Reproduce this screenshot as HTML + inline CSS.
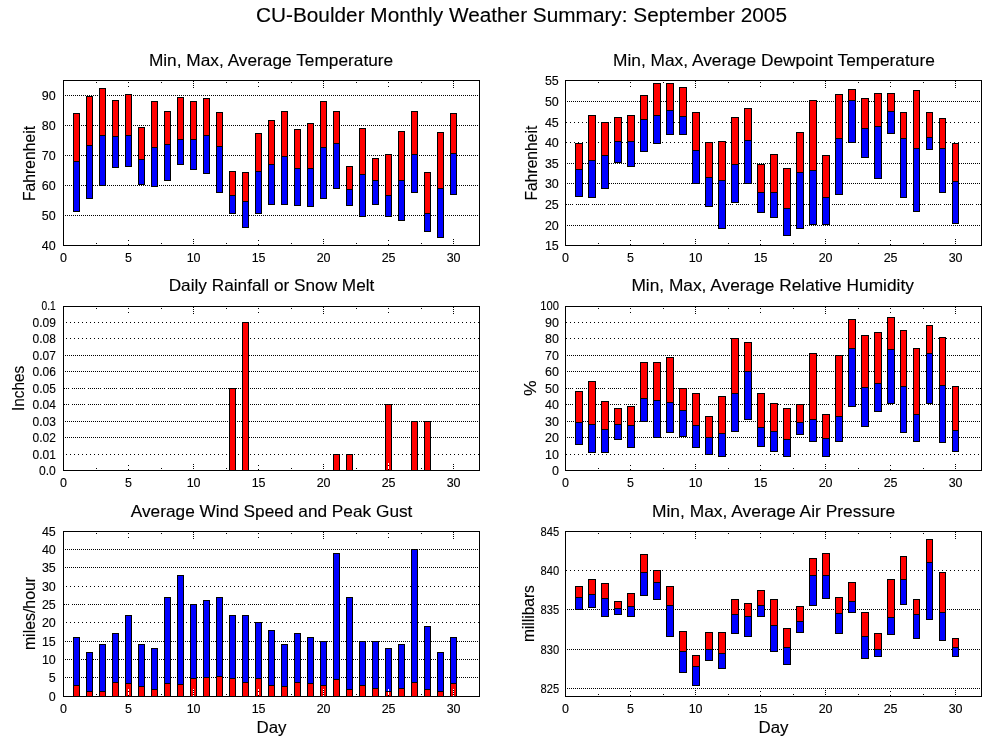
<!DOCTYPE html>
<html><head><meta charset="utf-8"><title>CU-Boulder Monthly Weather Summary: September 2005</title>
<style>html,body{margin:0;padding:0;background:#fff}svg{display:block}</style></head>
<body>
<svg width="1000" height="750" viewBox="0 0 1000 750" shape-rendering="crispEdges" font-family="'Liberation Sans', Arial, Helvetica, sans-serif" fill="#000"><style>text{stroke:#000;stroke-width:0.12px}</style>
<rect width="1000" height="750" fill="#fff"/>
<text x="256.00" y="22.4" font-size="19.5" textLength="531.00" lengthAdjust="spacingAndGlyphs">CU-Boulder Monthly Weather Summary: September 2005</text>
<path d="M65 95.5H479" stroke="#000" stroke-width="1" stroke-dasharray="1 1" fill="none"/>
<path d="M65 125.5H479" stroke="#000" stroke-width="1" stroke-dasharray="1 1" fill="none"/>
<path d="M65 155.5H479" stroke="#000" stroke-width="1" stroke-dasharray="1 1" fill="none"/>
<path d="M65 185.5H479" stroke="#000" stroke-width="1" stroke-dasharray="1 1" fill="none"/>
<path d="M65 215.5H479" stroke="#000" stroke-width="1" stroke-dasharray="1 1" fill="none"/>
<text x="55.6" y="250" font-size="12.5" text-anchor="end">40</text>
<text x="55.6" y="220" font-size="12.5" text-anchor="end">50</text>
<text x="55.6" y="190" font-size="12.5" text-anchor="end">60</text>
<text x="55.6" y="160" font-size="12.5" text-anchor="end">70</text>
<text x="55.6" y="130" font-size="12.5" text-anchor="end">80</text>
<text x="55.6" y="100" font-size="12.5" text-anchor="end">90</text>
<text x="63.6" y="262" font-size="12.5" text-anchor="middle">0</text>
<text x="128.6" y="262" font-size="12.5" text-anchor="middle">5</text>
<text x="193.6" y="262" font-size="12.5" text-anchor="middle">10</text>
<text x="258.6" y="262" font-size="12.5" text-anchor="middle">15</text>
<text x="323.6" y="262" font-size="12.5" text-anchor="middle">20</text>
<text x="388.6" y="262" font-size="12.5" text-anchor="middle">25</text>
<text x="453.6" y="262" font-size="12.5" text-anchor="middle">30</text>
<text x="148.90" y="65.7" font-size="16.5" textLength="244.30" lengthAdjust="spacingAndGlyphs">Min, Max, Average Temperature</text>
<text transform="translate(35.3 201.00) rotate(-90)" font-size="16.5" textLength="75.00" lengthAdjust="spacingAndGlyphs">Fahrenheit</text>
<rect x="73" y="113" width="7" height="99" fill="#000"/>
<rect x="74" y="114" width="5" height="47" fill="#ff0000"/>
<rect x="74" y="162" width="5" height="49" fill="#0000ff"/>
<rect x="86" y="96" width="7" height="103" fill="#000"/>
<rect x="87" y="97" width="5" height="48" fill="#ff0000"/>
<rect x="87" y="146" width="5" height="52" fill="#0000ff"/>
<rect x="99" y="88" width="7" height="98" fill="#000"/>
<rect x="100" y="89" width="5" height="46" fill="#ff0000"/>
<rect x="100" y="136" width="5" height="49" fill="#0000ff"/>
<rect x="112" y="100" width="7" height="68" fill="#000"/>
<rect x="113" y="101" width="5" height="35" fill="#ff0000"/>
<rect x="113" y="137" width="5" height="30" fill="#0000ff"/>
<rect x="125" y="94" width="7" height="73" fill="#000"/>
<rect x="126" y="95" width="5" height="40" fill="#ff0000"/>
<rect x="126" y="136" width="5" height="30" fill="#0000ff"/>
<rect x="138" y="127" width="7" height="58" fill="#000"/>
<rect x="139" y="128" width="5" height="31" fill="#ff0000"/>
<rect x="139" y="160" width="5" height="24" fill="#0000ff"/>
<rect x="151" y="101" width="7" height="86" fill="#000"/>
<rect x="152" y="102" width="5" height="45" fill="#ff0000"/>
<rect x="152" y="148" width="5" height="38" fill="#0000ff"/>
<rect x="164" y="111" width="7" height="70" fill="#000"/>
<rect x="165" y="112" width="5" height="32" fill="#ff0000"/>
<rect x="165" y="145" width="5" height="35" fill="#0000ff"/>
<rect x="177" y="97" width="7" height="68" fill="#000"/>
<rect x="178" y="98" width="5" height="41" fill="#ff0000"/>
<rect x="178" y="140" width="5" height="24" fill="#0000ff"/>
<rect x="190" y="101" width="7" height="69" fill="#000"/>
<rect x="191" y="102" width="5" height="37" fill="#ff0000"/>
<rect x="191" y="140" width="5" height="29" fill="#0000ff"/>
<rect x="203" y="98" width="7" height="76" fill="#000"/>
<rect x="204" y="99" width="5" height="36" fill="#ff0000"/>
<rect x="204" y="136" width="5" height="37" fill="#0000ff"/>
<rect x="216" y="112" width="7" height="81" fill="#000"/>
<rect x="217" y="113" width="5" height="33" fill="#ff0000"/>
<rect x="217" y="147" width="5" height="45" fill="#0000ff"/>
<rect x="229" y="171" width="7" height="43" fill="#000"/>
<rect x="230" y="172" width="5" height="23" fill="#ff0000"/>
<rect x="230" y="196" width="5" height="17" fill="#0000ff"/>
<rect x="242" y="172" width="7" height="56" fill="#000"/>
<rect x="243" y="173" width="5" height="28" fill="#ff0000"/>
<rect x="243" y="202" width="5" height="25" fill="#0000ff"/>
<rect x="255" y="133" width="7" height="81" fill="#000"/>
<rect x="256" y="134" width="5" height="37" fill="#ff0000"/>
<rect x="256" y="172" width="5" height="41" fill="#0000ff"/>
<rect x="268" y="120" width="7" height="85" fill="#000"/>
<rect x="269" y="121" width="5" height="43" fill="#ff0000"/>
<rect x="269" y="165" width="5" height="39" fill="#0000ff"/>
<rect x="281" y="111" width="7" height="94" fill="#000"/>
<rect x="282" y="112" width="5" height="44" fill="#ff0000"/>
<rect x="282" y="157" width="5" height="47" fill="#0000ff"/>
<rect x="294" y="129" width="7" height="77" fill="#000"/>
<rect x="295" y="130" width="5" height="38" fill="#ff0000"/>
<rect x="295" y="169" width="5" height="36" fill="#0000ff"/>
<rect x="307" y="123" width="7" height="84" fill="#000"/>
<rect x="308" y="124" width="5" height="44" fill="#ff0000"/>
<rect x="308" y="169" width="5" height="37" fill="#0000ff"/>
<rect x="320" y="101" width="7" height="98" fill="#000"/>
<rect x="321" y="102" width="5" height="45" fill="#ff0000"/>
<rect x="321" y="148" width="5" height="50" fill="#0000ff"/>
<rect x="333" y="111" width="7" height="78" fill="#000"/>
<rect x="334" y="112" width="5" height="31" fill="#ff0000"/>
<rect x="334" y="144" width="5" height="44" fill="#0000ff"/>
<rect x="346" y="166" width="7" height="40" fill="#000"/>
<rect x="347" y="167" width="5" height="22" fill="#ff0000"/>
<rect x="347" y="190" width="5" height="15" fill="#0000ff"/>
<rect x="359" y="128" width="7" height="89" fill="#000"/>
<rect x="360" y="129" width="5" height="45" fill="#ff0000"/>
<rect x="360" y="175" width="5" height="41" fill="#0000ff"/>
<rect x="372" y="158" width="7" height="47" fill="#000"/>
<rect x="373" y="159" width="5" height="21" fill="#ff0000"/>
<rect x="373" y="181" width="5" height="23" fill="#0000ff"/>
<rect x="385" y="154" width="7" height="63" fill="#000"/>
<rect x="386" y="155" width="5" height="40" fill="#ff0000"/>
<rect x="386" y="196" width="5" height="20" fill="#0000ff"/>
<rect x="398" y="131" width="7" height="90" fill="#000"/>
<rect x="399" y="132" width="5" height="48" fill="#ff0000"/>
<rect x="399" y="181" width="5" height="39" fill="#0000ff"/>
<rect x="411" y="111" width="7" height="82" fill="#000"/>
<rect x="412" y="112" width="5" height="42" fill="#ff0000"/>
<rect x="412" y="155" width="5" height="37" fill="#0000ff"/>
<rect x="424" y="172" width="7" height="60" fill="#000"/>
<rect x="425" y="173" width="5" height="40" fill="#ff0000"/>
<rect x="425" y="214" width="5" height="17" fill="#0000ff"/>
<rect x="437" y="132" width="7" height="106" fill="#000"/>
<rect x="438" y="133" width="5" height="55" fill="#ff0000"/>
<rect x="438" y="189" width="5" height="48" fill="#0000ff"/>
<rect x="450" y="113" width="7" height="82" fill="#000"/>
<rect x="451" y="114" width="5" height="39" fill="#ff0000"/>
<rect x="451" y="154" width="5" height="40" fill="#0000ff"/>
<rect x="96" y="81" width="1" height="3" fill="#fff"/>
<rect x="96" y="242" width="1" height="3" fill="#fff"/>
<rect x="96" y="82" width="1" height="1" fill="#000"/>
<rect x="96" y="243" width="1" height="1" fill="#000"/>
<rect x="128" y="81" width="1" height="7" fill="#fff"/>
<rect x="128" y="238" width="1" height="7" fill="#fff"/>
<rect x="128" y="82" width="1" height="1" fill="#000"/>
<rect x="128" y="86" width="1" height="1" fill="#000"/>
<rect x="128" y="244" width="1" height="1" fill="#000"/>
<rect x="128" y="240" width="1" height="1" fill="#000"/>
<rect x="161" y="81" width="1" height="3" fill="#fff"/>
<rect x="161" y="242" width="1" height="3" fill="#fff"/>
<rect x="161" y="82" width="1" height="1" fill="#000"/>
<rect x="161" y="243" width="1" height="1" fill="#000"/>
<rect x="193" y="81" width="1" height="7" fill="#fff"/>
<rect x="193" y="238" width="1" height="7" fill="#fff"/>
<rect x="193" y="81" width="1" height="1" fill="#000"/>
<rect x="193" y="83" width="1" height="1" fill="#000"/>
<rect x="193" y="85" width="1" height="1" fill="#000"/>
<rect x="193" y="87" width="1" height="1" fill="#000"/>
<rect x="193" y="243" width="1" height="1" fill="#000"/>
<rect x="193" y="241" width="1" height="1" fill="#000"/>
<rect x="193" y="239" width="1" height="1" fill="#000"/>
<rect x="226" y="81" width="1" height="3" fill="#fff"/>
<rect x="226" y="242" width="1" height="3" fill="#fff"/>
<rect x="226" y="82" width="1" height="1" fill="#000"/>
<rect x="226" y="243" width="1" height="1" fill="#000"/>
<rect x="258" y="81" width="1" height="7" fill="#fff"/>
<rect x="258" y="238" width="1" height="7" fill="#fff"/>
<rect x="258" y="82" width="1" height="1" fill="#000"/>
<rect x="258" y="86" width="1" height="1" fill="#000"/>
<rect x="258" y="244" width="1" height="1" fill="#000"/>
<rect x="258" y="240" width="1" height="1" fill="#000"/>
<rect x="291" y="81" width="1" height="3" fill="#fff"/>
<rect x="291" y="242" width="1" height="3" fill="#fff"/>
<rect x="291" y="82" width="1" height="1" fill="#000"/>
<rect x="291" y="243" width="1" height="1" fill="#000"/>
<rect x="323" y="81" width="1" height="7" fill="#fff"/>
<rect x="323" y="238" width="1" height="7" fill="#fff"/>
<rect x="323" y="81" width="1" height="1" fill="#000"/>
<rect x="323" y="83" width="1" height="1" fill="#000"/>
<rect x="323" y="85" width="1" height="1" fill="#000"/>
<rect x="323" y="87" width="1" height="1" fill="#000"/>
<rect x="323" y="243" width="1" height="1" fill="#000"/>
<rect x="323" y="241" width="1" height="1" fill="#000"/>
<rect x="323" y="239" width="1" height="1" fill="#000"/>
<rect x="356" y="81" width="1" height="3" fill="#fff"/>
<rect x="356" y="242" width="1" height="3" fill="#fff"/>
<rect x="356" y="82" width="1" height="1" fill="#000"/>
<rect x="356" y="243" width="1" height="1" fill="#000"/>
<rect x="388" y="81" width="1" height="7" fill="#fff"/>
<rect x="388" y="238" width="1" height="7" fill="#fff"/>
<rect x="388" y="82" width="1" height="1" fill="#000"/>
<rect x="388" y="86" width="1" height="1" fill="#000"/>
<rect x="388" y="244" width="1" height="1" fill="#000"/>
<rect x="388" y="240" width="1" height="1" fill="#000"/>
<rect x="421" y="81" width="1" height="3" fill="#fff"/>
<rect x="421" y="242" width="1" height="3" fill="#fff"/>
<rect x="421" y="82" width="1" height="1" fill="#000"/>
<rect x="421" y="243" width="1" height="1" fill="#000"/>
<rect x="453" y="81" width="1" height="7" fill="#fff"/>
<rect x="453" y="238" width="1" height="7" fill="#fff"/>
<rect x="453" y="81" width="1" height="1" fill="#000"/>
<rect x="453" y="83" width="1" height="1" fill="#000"/>
<rect x="453" y="85" width="1" height="1" fill="#000"/>
<rect x="453" y="87" width="1" height="1" fill="#000"/>
<rect x="453" y="243" width="1" height="1" fill="#000"/>
<rect x="453" y="241" width="1" height="1" fill="#000"/>
<rect x="453" y="239" width="1" height="1" fill="#000"/>
<path d="M63.5 80.5H479.5V245.5H63.5Z" stroke="#000" stroke-width="1" fill="none"/>
<path d="M567 101.5H981" stroke="#000" stroke-width="1" stroke-dasharray="1 1" fill="none"/>
<path d="M566 122.5H981" stroke="#000" stroke-width="1" stroke-dasharray="1 3" fill="none"/>
<path d="M566 142.5H981" stroke="#000" stroke-width="1" stroke-dasharray="1 3" fill="none"/>
<path d="M567 163.5H981" stroke="#000" stroke-width="1" stroke-dasharray="1 1" fill="none"/>
<path d="M567 183.5H981" stroke="#000" stroke-width="1" stroke-dasharray="1 1" fill="none"/>
<path d="M566 204.5H573M576 204.5H589M592 204.5H605M608 204.5H621M624 204.5H637M640 204.5H653M656 204.5H669M672 204.5H685M688 204.5H701M704 204.5H717M720 204.5H733M736 204.5H749M752 204.5H765M768 204.5H781M784 204.5H797M800 204.5H813M816 204.5H829M832 204.5H845M848 204.5H861M864 204.5H877M880 204.5H893M896 204.5H909M912 204.5H925M928 204.5H941M944 204.5H957M960 204.5H973M976 204.5H981" stroke="#000" stroke-width="1" stroke-dasharray="1 1" fill="none"/>
<path d="M567 225.5H981" stroke="#000" stroke-width="1" stroke-dasharray="1 1" fill="none"/>
<text x="558.8" y="85" font-size="12.5" text-anchor="end">55</text>
<text x="558.8" y="106" font-size="12.5" text-anchor="end">50</text>
<text x="558.8" y="127" font-size="12.5" text-anchor="end">45</text>
<text x="558.8" y="147" font-size="12.5" text-anchor="end">40</text>
<text x="558.8" y="168" font-size="12.5" text-anchor="end">35</text>
<text x="558.8" y="188" font-size="12.5" text-anchor="end">30</text>
<text x="558.8" y="209" font-size="12.5" text-anchor="end">25</text>
<text x="558.8" y="230" font-size="12.5" text-anchor="end">20</text>
<text x="558.8" y="250" font-size="12.5" text-anchor="end">15</text>
<text x="565.6" y="262" font-size="12.5" text-anchor="middle">0</text>
<text x="630.6" y="262" font-size="12.5" text-anchor="middle">5</text>
<text x="695.6" y="262" font-size="12.5" text-anchor="middle">10</text>
<text x="760.6" y="262" font-size="12.5" text-anchor="middle">15</text>
<text x="825.6" y="262" font-size="12.5" text-anchor="middle">20</text>
<text x="890.6" y="262" font-size="12.5" text-anchor="middle">25</text>
<text x="955.6" y="262" font-size="12.5" text-anchor="middle">30</text>
<text x="613.00" y="65.7" font-size="16.5" textLength="321.80" lengthAdjust="spacingAndGlyphs">Min, Max, Average Dewpoint Temperature</text>
<text transform="translate(537.1 200.50) rotate(-90)" font-size="16.5" textLength="74.80" lengthAdjust="spacingAndGlyphs">Fahrenheit</text>
<rect x="575" y="143" width="8" height="54" fill="#000"/>
<rect x="576" y="144" width="6" height="25" fill="#ff0000"/>
<rect x="576" y="170" width="6" height="26" fill="#0000ff"/>
<rect x="588" y="115" width="8" height="83" fill="#000"/>
<rect x="589" y="116" width="6" height="44" fill="#ff0000"/>
<rect x="589" y="161" width="6" height="36" fill="#0000ff"/>
<rect x="601" y="122" width="8" height="67" fill="#000"/>
<rect x="602" y="123" width="6" height="32" fill="#ff0000"/>
<rect x="602" y="156" width="6" height="32" fill="#0000ff"/>
<rect x="614" y="117" width="8" height="46" fill="#000"/>
<rect x="615" y="118" width="6" height="23" fill="#ff0000"/>
<rect x="615" y="142" width="6" height="20" fill="#0000ff"/>
<rect x="627" y="115" width="8" height="52" fill="#000"/>
<rect x="628" y="116" width="6" height="25" fill="#ff0000"/>
<rect x="628" y="142" width="6" height="24" fill="#0000ff"/>
<rect x="640" y="95" width="8" height="57" fill="#000"/>
<rect x="641" y="96" width="6" height="23" fill="#ff0000"/>
<rect x="641" y="120" width="6" height="31" fill="#0000ff"/>
<rect x="653" y="83" width="8" height="61" fill="#000"/>
<rect x="654" y="84" width="6" height="31" fill="#ff0000"/>
<rect x="654" y="116" width="6" height="27" fill="#0000ff"/>
<rect x="666" y="83" width="8" height="52" fill="#000"/>
<rect x="667" y="84" width="6" height="26" fill="#ff0000"/>
<rect x="667" y="111" width="6" height="23" fill="#0000ff"/>
<rect x="679" y="87" width="8" height="48" fill="#000"/>
<rect x="680" y="88" width="6" height="28" fill="#ff0000"/>
<rect x="680" y="117" width="6" height="17" fill="#0000ff"/>
<rect x="692" y="112" width="8" height="72" fill="#000"/>
<rect x="693" y="113" width="6" height="37" fill="#ff0000"/>
<rect x="693" y="151" width="6" height="32" fill="#0000ff"/>
<rect x="705" y="142" width="8" height="65" fill="#000"/>
<rect x="706" y="143" width="6" height="34" fill="#ff0000"/>
<rect x="706" y="178" width="6" height="28" fill="#0000ff"/>
<rect x="718" y="141" width="8" height="88" fill="#000"/>
<rect x="719" y="142" width="6" height="38" fill="#ff0000"/>
<rect x="719" y="181" width="6" height="47" fill="#0000ff"/>
<rect x="731" y="117" width="8" height="86" fill="#000"/>
<rect x="732" y="118" width="6" height="46" fill="#ff0000"/>
<rect x="732" y="165" width="6" height="37" fill="#0000ff"/>
<rect x="744" y="108" width="8" height="76" fill="#000"/>
<rect x="745" y="109" width="6" height="31" fill="#ff0000"/>
<rect x="745" y="141" width="6" height="42" fill="#0000ff"/>
<rect x="757" y="164" width="8" height="49" fill="#000"/>
<rect x="758" y="165" width="6" height="27" fill="#ff0000"/>
<rect x="758" y="193" width="6" height="19" fill="#0000ff"/>
<rect x="770" y="154" width="8" height="64" fill="#000"/>
<rect x="771" y="155" width="6" height="37" fill="#ff0000"/>
<rect x="771" y="193" width="6" height="24" fill="#0000ff"/>
<rect x="783" y="168" width="8" height="68" fill="#000"/>
<rect x="784" y="169" width="6" height="39" fill="#ff0000"/>
<rect x="784" y="209" width="6" height="26" fill="#0000ff"/>
<rect x="796" y="132" width="8" height="97" fill="#000"/>
<rect x="797" y="133" width="6" height="39" fill="#ff0000"/>
<rect x="797" y="173" width="6" height="55" fill="#0000ff"/>
<rect x="809" y="100" width="8" height="125" fill="#000"/>
<rect x="810" y="101" width="6" height="69" fill="#ff0000"/>
<rect x="810" y="171" width="6" height="53" fill="#0000ff"/>
<rect x="822" y="155" width="8" height="70" fill="#000"/>
<rect x="823" y="156" width="6" height="41" fill="#ff0000"/>
<rect x="823" y="198" width="6" height="26" fill="#0000ff"/>
<rect x="835" y="94" width="8" height="101" fill="#000"/>
<rect x="836" y="95" width="6" height="43" fill="#ff0000"/>
<rect x="836" y="139" width="6" height="55" fill="#0000ff"/>
<rect x="848" y="89" width="8" height="54" fill="#000"/>
<rect x="849" y="90" width="6" height="10" fill="#ff0000"/>
<rect x="849" y="101" width="6" height="41" fill="#0000ff"/>
<rect x="861" y="98" width="8" height="60" fill="#000"/>
<rect x="862" y="99" width="6" height="29" fill="#ff0000"/>
<rect x="862" y="129" width="6" height="28" fill="#0000ff"/>
<rect x="874" y="93" width="8" height="86" fill="#000"/>
<rect x="875" y="94" width="6" height="32" fill="#ff0000"/>
<rect x="875" y="127" width="6" height="51" fill="#0000ff"/>
<rect x="887" y="93" width="8" height="41" fill="#000"/>
<rect x="888" y="94" width="6" height="17" fill="#ff0000"/>
<rect x="888" y="112" width="6" height="21" fill="#0000ff"/>
<rect x="900" y="112" width="7" height="86" fill="#000"/>
<rect x="901" y="113" width="5" height="25" fill="#ff0000"/>
<rect x="901" y="139" width="5" height="58" fill="#0000ff"/>
<rect x="913" y="90" width="7" height="122" fill="#000"/>
<rect x="914" y="91" width="5" height="57" fill="#ff0000"/>
<rect x="914" y="149" width="5" height="62" fill="#0000ff"/>
<rect x="926" y="112" width="7" height="38" fill="#000"/>
<rect x="927" y="113" width="5" height="24" fill="#ff0000"/>
<rect x="927" y="138" width="5" height="11" fill="#0000ff"/>
<rect x="939" y="118" width="7" height="75" fill="#000"/>
<rect x="940" y="119" width="5" height="29" fill="#ff0000"/>
<rect x="940" y="149" width="5" height="43" fill="#0000ff"/>
<rect x="952" y="143" width="7" height="81" fill="#000"/>
<rect x="953" y="144" width="5" height="37" fill="#ff0000"/>
<rect x="953" y="182" width="5" height="41" fill="#0000ff"/>
<rect x="598" y="81" width="1" height="3" fill="#fff"/>
<rect x="598" y="242" width="1" height="3" fill="#fff"/>
<rect x="598" y="82" width="1" height="1" fill="#000"/>
<rect x="598" y="243" width="1" height="1" fill="#000"/>
<rect x="630" y="81" width="1" height="7" fill="#fff"/>
<rect x="630" y="238" width="1" height="7" fill="#fff"/>
<rect x="630" y="82" width="1" height="1" fill="#000"/>
<rect x="630" y="86" width="1" height="1" fill="#000"/>
<rect x="630" y="244" width="1" height="1" fill="#000"/>
<rect x="630" y="240" width="1" height="1" fill="#000"/>
<rect x="663" y="81" width="1" height="3" fill="#fff"/>
<rect x="663" y="242" width="1" height="3" fill="#fff"/>
<rect x="663" y="82" width="1" height="1" fill="#000"/>
<rect x="663" y="243" width="1" height="1" fill="#000"/>
<rect x="695" y="81" width="1" height="7" fill="#fff"/>
<rect x="695" y="238" width="1" height="7" fill="#fff"/>
<rect x="695" y="81" width="1" height="1" fill="#000"/>
<rect x="695" y="83" width="1" height="1" fill="#000"/>
<rect x="695" y="85" width="1" height="1" fill="#000"/>
<rect x="695" y="87" width="1" height="1" fill="#000"/>
<rect x="695" y="243" width="1" height="1" fill="#000"/>
<rect x="695" y="241" width="1" height="1" fill="#000"/>
<rect x="695" y="239" width="1" height="1" fill="#000"/>
<rect x="728" y="81" width="1" height="3" fill="#fff"/>
<rect x="728" y="242" width="1" height="3" fill="#fff"/>
<rect x="728" y="82" width="1" height="1" fill="#000"/>
<rect x="728" y="243" width="1" height="1" fill="#000"/>
<rect x="760" y="81" width="1" height="7" fill="#fff"/>
<rect x="760" y="238" width="1" height="7" fill="#fff"/>
<rect x="760" y="82" width="1" height="1" fill="#000"/>
<rect x="760" y="86" width="1" height="1" fill="#000"/>
<rect x="760" y="244" width="1" height="1" fill="#000"/>
<rect x="760" y="240" width="1" height="1" fill="#000"/>
<rect x="793" y="81" width="1" height="3" fill="#fff"/>
<rect x="793" y="242" width="1" height="3" fill="#fff"/>
<rect x="793" y="82" width="1" height="1" fill="#000"/>
<rect x="793" y="243" width="1" height="1" fill="#000"/>
<rect x="825" y="81" width="1" height="7" fill="#fff"/>
<rect x="825" y="238" width="1" height="7" fill="#fff"/>
<rect x="825" y="81" width="1" height="1" fill="#000"/>
<rect x="825" y="83" width="1" height="1" fill="#000"/>
<rect x="825" y="85" width="1" height="1" fill="#000"/>
<rect x="825" y="87" width="1" height="1" fill="#000"/>
<rect x="825" y="243" width="1" height="1" fill="#000"/>
<rect x="825" y="241" width="1" height="1" fill="#000"/>
<rect x="825" y="239" width="1" height="1" fill="#000"/>
<rect x="858" y="81" width="1" height="3" fill="#fff"/>
<rect x="858" y="242" width="1" height="3" fill="#fff"/>
<rect x="858" y="82" width="1" height="1" fill="#000"/>
<rect x="858" y="243" width="1" height="1" fill="#000"/>
<rect x="890" y="81" width="1" height="7" fill="#fff"/>
<rect x="890" y="238" width="1" height="7" fill="#fff"/>
<rect x="890" y="82" width="1" height="1" fill="#000"/>
<rect x="890" y="86" width="1" height="1" fill="#000"/>
<rect x="890" y="244" width="1" height="1" fill="#000"/>
<rect x="890" y="240" width="1" height="1" fill="#000"/>
<rect x="923" y="81" width="1" height="3" fill="#fff"/>
<rect x="923" y="242" width="1" height="3" fill="#fff"/>
<rect x="923" y="82" width="1" height="1" fill="#000"/>
<rect x="923" y="243" width="1" height="1" fill="#000"/>
<rect x="955" y="81" width="1" height="7" fill="#fff"/>
<rect x="955" y="238" width="1" height="7" fill="#fff"/>
<rect x="955" y="81" width="1" height="1" fill="#000"/>
<rect x="955" y="83" width="1" height="1" fill="#000"/>
<rect x="955" y="85" width="1" height="1" fill="#000"/>
<rect x="955" y="87" width="1" height="1" fill="#000"/>
<rect x="955" y="243" width="1" height="1" fill="#000"/>
<rect x="955" y="241" width="1" height="1" fill="#000"/>
<rect x="955" y="239" width="1" height="1" fill="#000"/>
<path d="M565.5 80.5H981.5V245.5H565.5Z" stroke="#000" stroke-width="1" fill="none"/>
<path d="M66 322.5H479" stroke="#000" stroke-width="1" stroke-dasharray="1 3" fill="none"/>
<path d="M66 338.5H479" stroke="#000" stroke-width="1" stroke-dasharray="1 3" fill="none"/>
<path d="M65 355.5H479" stroke="#000" stroke-width="1" stroke-dasharray="1 1" fill="none"/>
<path d="M65 371.5H479" stroke="#000" stroke-width="1" stroke-dasharray="1 1" fill="none"/>
<path d="M64 388.5H69M72 388.5H85M88 388.5H101M104 388.5H117M120 388.5H133M136 388.5H149M152 388.5H165M168 388.5H181M184 388.5H197M200 388.5H213M216 388.5H229M232 388.5H245M248 388.5H261M264 388.5H277M280 388.5H293M296 388.5H309M312 388.5H325M328 388.5H341M344 388.5H357M360 388.5H373M376 388.5H389M392 388.5H405M408 388.5H421M424 388.5H437M440 388.5H453M456 388.5H469M472 388.5H479" stroke="#000" stroke-width="1" stroke-dasharray="1 1" fill="none"/>
<path d="M64 404.5H69M72 404.5H85M88 404.5H101M104 404.5H117M120 404.5H133M136 404.5H149M152 404.5H165M168 404.5H181M184 404.5H197M200 404.5H213M216 404.5H229M232 404.5H245M248 404.5H261M264 404.5H277M280 404.5H293M296 404.5H309M312 404.5H325M328 404.5H341M344 404.5H357M360 404.5H373M376 404.5H389M392 404.5H405M408 404.5H421M424 404.5H437M440 404.5H453M456 404.5H469M472 404.5H479" stroke="#000" stroke-width="1" stroke-dasharray="1 1" fill="none"/>
<path d="M65 421.5H479" stroke="#000" stroke-width="1" stroke-dasharray="1 1" fill="none"/>
<path d="M65 437.5H479" stroke="#000" stroke-width="1" stroke-dasharray="1 1" fill="none"/>
<path d="M66 454.5H479" stroke="#000" stroke-width="1" stroke-dasharray="1 3" fill="none"/>
<text x="41.60" y="310" font-size="12.5" textLength="14.2" lengthAdjust="spacingAndGlyphs">0.1</text>
<text x="32.50" y="327" font-size="12.5" textLength="23.3" lengthAdjust="spacingAndGlyphs">0.09</text>
<text x="32.50" y="343" font-size="12.5" textLength="23.3" lengthAdjust="spacingAndGlyphs">0.08</text>
<text x="32.50" y="360" font-size="12.5" textLength="23.3" lengthAdjust="spacingAndGlyphs">0.07</text>
<text x="32.50" y="376" font-size="12.5" textLength="23.3" lengthAdjust="spacingAndGlyphs">0.06</text>
<text x="32.50" y="393" font-size="12.5" textLength="23.3" lengthAdjust="spacingAndGlyphs">0.05</text>
<text x="32.50" y="409" font-size="12.5" textLength="23.3" lengthAdjust="spacingAndGlyphs">0.04</text>
<text x="32.50" y="426" font-size="12.5" textLength="23.3" lengthAdjust="spacingAndGlyphs">0.03</text>
<text x="32.50" y="442" font-size="12.5" textLength="23.3" lengthAdjust="spacingAndGlyphs">0.02</text>
<text x="32.50" y="459" font-size="12.5" textLength="23.3" lengthAdjust="spacingAndGlyphs">0.01</text>
<text x="38.95" y="475" font-size="12.5" textLength="16.85" lengthAdjust="spacingAndGlyphs">0.0</text>
<text x="63.6" y="487" font-size="12.5" text-anchor="middle">0</text>
<text x="128.6" y="487" font-size="12.5" text-anchor="middle">5</text>
<text x="193.6" y="487" font-size="12.5" text-anchor="middle">10</text>
<text x="258.6" y="487" font-size="12.5" text-anchor="middle">15</text>
<text x="323.6" y="487" font-size="12.5" text-anchor="middle">20</text>
<text x="388.6" y="487" font-size="12.5" text-anchor="middle">25</text>
<text x="453.6" y="487" font-size="12.5" text-anchor="middle">30</text>
<text x="168.70" y="290.7" font-size="16.5" textLength="205.70" lengthAdjust="spacingAndGlyphs">Daily Rainfall or Snow Melt</text>
<text transform="translate(24.4 411.00) rotate(-90)" font-size="16.5" textLength="45.30" lengthAdjust="spacingAndGlyphs">Inches</text>
<rect x="229" y="388" width="7" height="83" fill="#000"/>
<rect x="230" y="389" width="5" height="81" fill="#ff0000"/>
<rect x="242" y="322" width="7" height="149" fill="#000"/>
<rect x="243" y="323" width="5" height="147" fill="#ff0000"/>
<rect x="333" y="454" width="7" height="17" fill="#000"/>
<rect x="334" y="455" width="5" height="15" fill="#ff0000"/>
<rect x="346" y="454" width="7" height="17" fill="#000"/>
<rect x="347" y="455" width="5" height="15" fill="#ff0000"/>
<rect x="385" y="404" width="7" height="67" fill="#000"/>
<rect x="386" y="405" width="5" height="65" fill="#ff0000"/>
<rect x="411" y="421" width="7" height="50" fill="#000"/>
<rect x="412" y="422" width="5" height="48" fill="#ff0000"/>
<rect x="424" y="421" width="7" height="50" fill="#000"/>
<rect x="425" y="422" width="5" height="48" fill="#ff0000"/>
<rect x="96" y="307" width="1" height="3" fill="#fff"/>
<rect x="96" y="467" width="1" height="3" fill="#fff"/>
<rect x="96" y="308" width="1" height="1" fill="#000"/>
<rect x="96" y="468" width="1" height="1" fill="#000"/>
<rect x="128" y="307" width="1" height="7" fill="#fff"/>
<rect x="128" y="463" width="1" height="7" fill="#fff"/>
<rect x="128" y="308" width="1" height="1" fill="#000"/>
<rect x="128" y="312" width="1" height="1" fill="#000"/>
<rect x="128" y="469" width="1" height="1" fill="#000"/>
<rect x="128" y="465" width="1" height="1" fill="#000"/>
<rect x="161" y="307" width="1" height="3" fill="#fff"/>
<rect x="161" y="467" width="1" height="3" fill="#fff"/>
<rect x="161" y="308" width="1" height="1" fill="#000"/>
<rect x="161" y="468" width="1" height="1" fill="#000"/>
<rect x="193" y="307" width="1" height="7" fill="#fff"/>
<rect x="193" y="463" width="1" height="7" fill="#fff"/>
<rect x="193" y="307" width="1" height="1" fill="#000"/>
<rect x="193" y="309" width="1" height="1" fill="#000"/>
<rect x="193" y="311" width="1" height="1" fill="#000"/>
<rect x="193" y="313" width="1" height="1" fill="#000"/>
<rect x="193" y="468" width="1" height="1" fill="#000"/>
<rect x="193" y="466" width="1" height="1" fill="#000"/>
<rect x="193" y="464" width="1" height="1" fill="#000"/>
<rect x="226" y="307" width="1" height="3" fill="#fff"/>
<rect x="226" y="467" width="1" height="3" fill="#fff"/>
<rect x="226" y="308" width="1" height="1" fill="#000"/>
<rect x="226" y="468" width="1" height="1" fill="#000"/>
<rect x="258" y="307" width="1" height="7" fill="#fff"/>
<rect x="258" y="463" width="1" height="7" fill="#fff"/>
<rect x="258" y="308" width="1" height="1" fill="#000"/>
<rect x="258" y="312" width="1" height="1" fill="#000"/>
<rect x="258" y="469" width="1" height="1" fill="#000"/>
<rect x="258" y="465" width="1" height="1" fill="#000"/>
<rect x="291" y="307" width="1" height="3" fill="#fff"/>
<rect x="291" y="467" width="1" height="3" fill="#fff"/>
<rect x="291" y="308" width="1" height="1" fill="#000"/>
<rect x="291" y="468" width="1" height="1" fill="#000"/>
<rect x="323" y="307" width="1" height="7" fill="#fff"/>
<rect x="323" y="463" width="1" height="7" fill="#fff"/>
<rect x="323" y="307" width="1" height="1" fill="#000"/>
<rect x="323" y="309" width="1" height="1" fill="#000"/>
<rect x="323" y="311" width="1" height="1" fill="#000"/>
<rect x="323" y="313" width="1" height="1" fill="#000"/>
<rect x="323" y="468" width="1" height="1" fill="#000"/>
<rect x="323" y="466" width="1" height="1" fill="#000"/>
<rect x="323" y="464" width="1" height="1" fill="#000"/>
<rect x="356" y="307" width="1" height="3" fill="#fff"/>
<rect x="356" y="467" width="1" height="3" fill="#fff"/>
<rect x="356" y="308" width="1" height="1" fill="#000"/>
<rect x="356" y="468" width="1" height="1" fill="#000"/>
<rect x="388" y="307" width="1" height="7" fill="#fff"/>
<rect x="388" y="463" width="1" height="7" fill="#fff"/>
<rect x="388" y="308" width="1" height="1" fill="#000"/>
<rect x="388" y="312" width="1" height="1" fill="#000"/>
<rect x="388" y="469" width="1" height="1" fill="#000"/>
<rect x="388" y="465" width="1" height="1" fill="#000"/>
<rect x="421" y="307" width="1" height="3" fill="#fff"/>
<rect x="421" y="467" width="1" height="3" fill="#fff"/>
<rect x="421" y="308" width="1" height="1" fill="#000"/>
<rect x="421" y="468" width="1" height="1" fill="#000"/>
<rect x="453" y="307" width="1" height="7" fill="#fff"/>
<rect x="453" y="463" width="1" height="7" fill="#fff"/>
<rect x="453" y="307" width="1" height="1" fill="#000"/>
<rect x="453" y="309" width="1" height="1" fill="#000"/>
<rect x="453" y="311" width="1" height="1" fill="#000"/>
<rect x="453" y="313" width="1" height="1" fill="#000"/>
<rect x="453" y="468" width="1" height="1" fill="#000"/>
<rect x="453" y="466" width="1" height="1" fill="#000"/>
<rect x="453" y="464" width="1" height="1" fill="#000"/>
<path d="M63.5 306.5H479.5V470.5H63.5Z" stroke="#000" stroke-width="1" fill="none"/>
<path d="M566 322.5H981" stroke="#000" stroke-width="1" stroke-dasharray="1 3" fill="none"/>
<path d="M566 338.5H981" stroke="#000" stroke-width="1" stroke-dasharray="1 3" fill="none"/>
<path d="M567 355.5H981" stroke="#000" stroke-width="1" stroke-dasharray="1 1" fill="none"/>
<path d="M567 371.5H981" stroke="#000" stroke-width="1" stroke-dasharray="1 1" fill="none"/>
<path d="M566 388.5H573M576 388.5H589M592 388.5H605M608 388.5H621M624 388.5H637M640 388.5H653M656 388.5H669M672 388.5H685M688 388.5H701M704 388.5H717M720 388.5H733M736 388.5H749M752 388.5H765M768 388.5H781M784 388.5H797M800 388.5H813M816 388.5H829M832 388.5H845M848 388.5H861M864 388.5H877M880 388.5H893M896 388.5H909M912 388.5H925M928 388.5H941M944 388.5H957M960 388.5H973M976 388.5H981" stroke="#000" stroke-width="1" stroke-dasharray="1 1" fill="none"/>
<path d="M566 404.5H573M576 404.5H589M592 404.5H605M608 404.5H621M624 404.5H637M640 404.5H653M656 404.5H669M672 404.5H685M688 404.5H701M704 404.5H717M720 404.5H733M736 404.5H749M752 404.5H765M768 404.5H781M784 404.5H797M800 404.5H813M816 404.5H829M832 404.5H845M848 404.5H861M864 404.5H877M880 404.5H893M896 404.5H909M912 404.5H925M928 404.5H941M944 404.5H957M960 404.5H973M976 404.5H981" stroke="#000" stroke-width="1" stroke-dasharray="1 1" fill="none"/>
<path d="M567 421.5H981" stroke="#000" stroke-width="1" stroke-dasharray="1 1" fill="none"/>
<path d="M567 437.5H981" stroke="#000" stroke-width="1" stroke-dasharray="1 1" fill="none"/>
<path d="M566 454.5H981" stroke="#000" stroke-width="1" stroke-dasharray="1 3" fill="none"/>
<text x="540.35" y="310" font-size="12.5" textLength="18.65" lengthAdjust="spacingAndGlyphs">100</text>
<text x="559" y="327" font-size="12.5" text-anchor="end">90</text>
<text x="559" y="343" font-size="12.5" text-anchor="end">80</text>
<text x="559" y="360" font-size="12.5" text-anchor="end">70</text>
<text x="559" y="376" font-size="12.5" text-anchor="end">60</text>
<text x="559" y="393" font-size="12.5" text-anchor="end">50</text>
<text x="559" y="409" font-size="12.5" text-anchor="end">40</text>
<text x="559" y="426" font-size="12.5" text-anchor="end">30</text>
<text x="559" y="442" font-size="12.5" text-anchor="end">20</text>
<text x="559" y="459" font-size="12.5" text-anchor="end">10</text>
<text x="559" y="475" font-size="12.5" text-anchor="end">0</text>
<text x="565.6" y="487" font-size="12.5" text-anchor="middle">0</text>
<text x="630.6" y="487" font-size="12.5" text-anchor="middle">5</text>
<text x="695.6" y="487" font-size="12.5" text-anchor="middle">10</text>
<text x="760.6" y="487" font-size="12.5" text-anchor="middle">15</text>
<text x="825.6" y="487" font-size="12.5" text-anchor="middle">20</text>
<text x="890.6" y="487" font-size="12.5" text-anchor="middle">25</text>
<text x="955.6" y="487" font-size="12.5" text-anchor="middle">30</text>
<text x="631.40" y="290.7" font-size="16.5" textLength="282.50" lengthAdjust="spacingAndGlyphs">Min, Max, Average Relative Humidity</text>
<text transform="translate(535.5 395.90) rotate(-90)" font-size="16.5" textLength="15.60" lengthAdjust="spacingAndGlyphs">%</text>
<rect x="575" y="391" width="8" height="54" fill="#000"/>
<rect x="576" y="392" width="6" height="30" fill="#ff0000"/>
<rect x="576" y="423" width="6" height="21" fill="#0000ff"/>
<rect x="588" y="381" width="8" height="72" fill="#000"/>
<rect x="589" y="382" width="6" height="42" fill="#ff0000"/>
<rect x="589" y="425" width="6" height="27" fill="#0000ff"/>
<rect x="601" y="401" width="8" height="52" fill="#000"/>
<rect x="602" y="402" width="6" height="27" fill="#ff0000"/>
<rect x="602" y="430" width="6" height="22" fill="#0000ff"/>
<rect x="614" y="408" width="8" height="32" fill="#000"/>
<rect x="615" y="409" width="6" height="15" fill="#ff0000"/>
<rect x="615" y="425" width="6" height="14" fill="#0000ff"/>
<rect x="627" y="406" width="8" height="42" fill="#000"/>
<rect x="628" y="407" width="6" height="18" fill="#ff0000"/>
<rect x="628" y="426" width="6" height="21" fill="#0000ff"/>
<rect x="640" y="362" width="8" height="60" fill="#000"/>
<rect x="641" y="363" width="6" height="35" fill="#ff0000"/>
<rect x="641" y="399" width="6" height="22" fill="#0000ff"/>
<rect x="653" y="362" width="8" height="76" fill="#000"/>
<rect x="654" y="363" width="6" height="37" fill="#ff0000"/>
<rect x="654" y="401" width="6" height="36" fill="#0000ff"/>
<rect x="666" y="357" width="8" height="76" fill="#000"/>
<rect x="667" y="358" width="6" height="44" fill="#ff0000"/>
<rect x="667" y="403" width="6" height="29" fill="#0000ff"/>
<rect x="679" y="388" width="8" height="49" fill="#000"/>
<rect x="680" y="389" width="6" height="21" fill="#ff0000"/>
<rect x="680" y="411" width="6" height="25" fill="#0000ff"/>
<rect x="692" y="393" width="8" height="55" fill="#000"/>
<rect x="693" y="394" width="6" height="31" fill="#ff0000"/>
<rect x="693" y="426" width="6" height="21" fill="#0000ff"/>
<rect x="705" y="416" width="8" height="39" fill="#000"/>
<rect x="706" y="417" width="6" height="20" fill="#ff0000"/>
<rect x="706" y="438" width="6" height="16" fill="#0000ff"/>
<rect x="718" y="396" width="8" height="61" fill="#000"/>
<rect x="719" y="397" width="6" height="36" fill="#ff0000"/>
<rect x="719" y="434" width="6" height="22" fill="#0000ff"/>
<rect x="731" y="338" width="8" height="94" fill="#000"/>
<rect x="732" y="339" width="6" height="54" fill="#ff0000"/>
<rect x="732" y="394" width="6" height="37" fill="#0000ff"/>
<rect x="744" y="342" width="8" height="78" fill="#000"/>
<rect x="745" y="343" width="6" height="28" fill="#ff0000"/>
<rect x="745" y="372" width="6" height="47" fill="#0000ff"/>
<rect x="757" y="393" width="8" height="54" fill="#000"/>
<rect x="758" y="394" width="6" height="33" fill="#ff0000"/>
<rect x="758" y="428" width="6" height="18" fill="#0000ff"/>
<rect x="770" y="403" width="8" height="49" fill="#000"/>
<rect x="771" y="404" width="6" height="27" fill="#ff0000"/>
<rect x="771" y="432" width="6" height="19" fill="#0000ff"/>
<rect x="783" y="408" width="8" height="49" fill="#000"/>
<rect x="784" y="409" width="6" height="30" fill="#ff0000"/>
<rect x="784" y="440" width="6" height="16" fill="#0000ff"/>
<rect x="796" y="404" width="8" height="31" fill="#000"/>
<rect x="797" y="405" width="6" height="17" fill="#ff0000"/>
<rect x="797" y="423" width="6" height="11" fill="#0000ff"/>
<rect x="809" y="353" width="8" height="89" fill="#000"/>
<rect x="810" y="354" width="6" height="65" fill="#ff0000"/>
<rect x="810" y="420" width="6" height="21" fill="#0000ff"/>
<rect x="822" y="414" width="8" height="43" fill="#000"/>
<rect x="823" y="415" width="6" height="23" fill="#ff0000"/>
<rect x="823" y="439" width="6" height="17" fill="#0000ff"/>
<rect x="835" y="355" width="8" height="87" fill="#000"/>
<rect x="836" y="356" width="6" height="60" fill="#ff0000"/>
<rect x="836" y="417" width="6" height="24" fill="#0000ff"/>
<rect x="848" y="319" width="8" height="88" fill="#000"/>
<rect x="849" y="320" width="6" height="28" fill="#ff0000"/>
<rect x="849" y="349" width="6" height="57" fill="#0000ff"/>
<rect x="861" y="335" width="8" height="92" fill="#000"/>
<rect x="862" y="336" width="6" height="51" fill="#ff0000"/>
<rect x="862" y="388" width="6" height="38" fill="#0000ff"/>
<rect x="874" y="332" width="8" height="80" fill="#000"/>
<rect x="875" y="333" width="6" height="50" fill="#ff0000"/>
<rect x="875" y="384" width="6" height="27" fill="#0000ff"/>
<rect x="887" y="317" width="8" height="87" fill="#000"/>
<rect x="888" y="318" width="6" height="31" fill="#ff0000"/>
<rect x="888" y="350" width="6" height="53" fill="#0000ff"/>
<rect x="900" y="330" width="7" height="103" fill="#000"/>
<rect x="901" y="331" width="5" height="55" fill="#ff0000"/>
<rect x="901" y="387" width="5" height="45" fill="#0000ff"/>
<rect x="913" y="348" width="7" height="94" fill="#000"/>
<rect x="914" y="349" width="5" height="65" fill="#ff0000"/>
<rect x="914" y="415" width="5" height="26" fill="#0000ff"/>
<rect x="926" y="325" width="7" height="79" fill="#000"/>
<rect x="927" y="326" width="5" height="27" fill="#ff0000"/>
<rect x="927" y="354" width="5" height="49" fill="#0000ff"/>
<rect x="939" y="337" width="7" height="106" fill="#000"/>
<rect x="940" y="338" width="5" height="47" fill="#ff0000"/>
<rect x="940" y="386" width="5" height="56" fill="#0000ff"/>
<rect x="952" y="386" width="7" height="66" fill="#000"/>
<rect x="953" y="387" width="5" height="43" fill="#ff0000"/>
<rect x="953" y="431" width="5" height="20" fill="#0000ff"/>
<rect x="598" y="307" width="1" height="3" fill="#fff"/>
<rect x="598" y="467" width="1" height="3" fill="#fff"/>
<rect x="598" y="308" width="1" height="1" fill="#000"/>
<rect x="598" y="468" width="1" height="1" fill="#000"/>
<rect x="630" y="307" width="1" height="7" fill="#fff"/>
<rect x="630" y="463" width="1" height="7" fill="#fff"/>
<rect x="630" y="308" width="1" height="1" fill="#000"/>
<rect x="630" y="312" width="1" height="1" fill="#000"/>
<rect x="630" y="469" width="1" height="1" fill="#000"/>
<rect x="630" y="465" width="1" height="1" fill="#000"/>
<rect x="663" y="307" width="1" height="3" fill="#fff"/>
<rect x="663" y="467" width="1" height="3" fill="#fff"/>
<rect x="663" y="308" width="1" height="1" fill="#000"/>
<rect x="663" y="468" width="1" height="1" fill="#000"/>
<rect x="695" y="307" width="1" height="7" fill="#fff"/>
<rect x="695" y="463" width="1" height="7" fill="#fff"/>
<rect x="695" y="307" width="1" height="1" fill="#000"/>
<rect x="695" y="309" width="1" height="1" fill="#000"/>
<rect x="695" y="311" width="1" height="1" fill="#000"/>
<rect x="695" y="313" width="1" height="1" fill="#000"/>
<rect x="695" y="468" width="1" height="1" fill="#000"/>
<rect x="695" y="466" width="1" height="1" fill="#000"/>
<rect x="695" y="464" width="1" height="1" fill="#000"/>
<rect x="728" y="307" width="1" height="3" fill="#fff"/>
<rect x="728" y="467" width="1" height="3" fill="#fff"/>
<rect x="728" y="308" width="1" height="1" fill="#000"/>
<rect x="728" y="468" width="1" height="1" fill="#000"/>
<rect x="760" y="307" width="1" height="7" fill="#fff"/>
<rect x="760" y="463" width="1" height="7" fill="#fff"/>
<rect x="760" y="308" width="1" height="1" fill="#000"/>
<rect x="760" y="312" width="1" height="1" fill="#000"/>
<rect x="760" y="469" width="1" height="1" fill="#000"/>
<rect x="760" y="465" width="1" height="1" fill="#000"/>
<rect x="793" y="307" width="1" height="3" fill="#fff"/>
<rect x="793" y="467" width="1" height="3" fill="#fff"/>
<rect x="793" y="308" width="1" height="1" fill="#000"/>
<rect x="793" y="468" width="1" height="1" fill="#000"/>
<rect x="825" y="307" width="1" height="7" fill="#fff"/>
<rect x="825" y="463" width="1" height="7" fill="#fff"/>
<rect x="825" y="307" width="1" height="1" fill="#000"/>
<rect x="825" y="309" width="1" height="1" fill="#000"/>
<rect x="825" y="311" width="1" height="1" fill="#000"/>
<rect x="825" y="313" width="1" height="1" fill="#000"/>
<rect x="825" y="468" width="1" height="1" fill="#000"/>
<rect x="825" y="466" width="1" height="1" fill="#000"/>
<rect x="825" y="464" width="1" height="1" fill="#000"/>
<rect x="858" y="307" width="1" height="3" fill="#fff"/>
<rect x="858" y="467" width="1" height="3" fill="#fff"/>
<rect x="858" y="308" width="1" height="1" fill="#000"/>
<rect x="858" y="468" width="1" height="1" fill="#000"/>
<rect x="890" y="307" width="1" height="7" fill="#fff"/>
<rect x="890" y="463" width="1" height="7" fill="#fff"/>
<rect x="890" y="308" width="1" height="1" fill="#000"/>
<rect x="890" y="312" width="1" height="1" fill="#000"/>
<rect x="890" y="469" width="1" height="1" fill="#000"/>
<rect x="890" y="465" width="1" height="1" fill="#000"/>
<rect x="923" y="307" width="1" height="3" fill="#fff"/>
<rect x="923" y="467" width="1" height="3" fill="#fff"/>
<rect x="923" y="308" width="1" height="1" fill="#000"/>
<rect x="923" y="468" width="1" height="1" fill="#000"/>
<rect x="955" y="307" width="1" height="7" fill="#fff"/>
<rect x="955" y="463" width="1" height="7" fill="#fff"/>
<rect x="955" y="307" width="1" height="1" fill="#000"/>
<rect x="955" y="309" width="1" height="1" fill="#000"/>
<rect x="955" y="311" width="1" height="1" fill="#000"/>
<rect x="955" y="313" width="1" height="1" fill="#000"/>
<rect x="955" y="468" width="1" height="1" fill="#000"/>
<rect x="955" y="466" width="1" height="1" fill="#000"/>
<rect x="955" y="464" width="1" height="1" fill="#000"/>
<path d="M565.5 306.5H981.5V470.5H565.5Z" stroke="#000" stroke-width="1" fill="none"/>
<path d="M65 549.5H479" stroke="#000" stroke-width="1" stroke-dasharray="1 1" fill="none"/>
<path d="M65 567.5H479" stroke="#000" stroke-width="1" stroke-dasharray="1 1" fill="none"/>
<path d="M66 586.5H479" stroke="#000" stroke-width="1" stroke-dasharray="1 3" fill="none"/>
<path d="M64 604.5H69M72 604.5H85M88 604.5H101M104 604.5H117M120 604.5H133M136 604.5H149M152 604.5H165M168 604.5H181M184 604.5H197M200 604.5H213M216 604.5H229M232 604.5H245M248 604.5H261M264 604.5H277M280 604.5H293M296 604.5H309M312 604.5H325M328 604.5H341M344 604.5H357M360 604.5H373M376 604.5H389M392 604.5H405M408 604.5H421M424 604.5H437M440 604.5H453M456 604.5H469M472 604.5H479" stroke="#000" stroke-width="1" stroke-dasharray="1 1" fill="none"/>
<path d="M66 622.5H479" stroke="#000" stroke-width="1" stroke-dasharray="1 3" fill="none"/>
<path d="M65 641.5H479" stroke="#000" stroke-width="1" stroke-dasharray="1 1" fill="none"/>
<path d="M65 659.5H479" stroke="#000" stroke-width="1" stroke-dasharray="1 1" fill="none"/>
<path d="M65 677.5H479" stroke="#000" stroke-width="1" stroke-dasharray="1 1" fill="none"/>
<text x="55.8" y="536" font-size="12.5" text-anchor="end">45</text>
<text x="55.8" y="554" font-size="12.5" text-anchor="end">40</text>
<text x="55.8" y="572" font-size="12.5" text-anchor="end">35</text>
<text x="55.8" y="591" font-size="12.5" text-anchor="end">30</text>
<text x="55.8" y="609" font-size="12.5" text-anchor="end">25</text>
<text x="55.8" y="627" font-size="12.5" text-anchor="end">20</text>
<text x="55.8" y="646" font-size="12.5" text-anchor="end">15</text>
<text x="55.8" y="664" font-size="12.5" text-anchor="end">10</text>
<text x="55.8" y="682" font-size="12.5" text-anchor="end">5</text>
<text x="55.8" y="701" font-size="12.5" text-anchor="end">0</text>
<text x="63.6" y="713" font-size="12.5" text-anchor="middle">0</text>
<text x="128.6" y="713" font-size="12.5" text-anchor="middle">5</text>
<text x="193.6" y="713" font-size="12.5" text-anchor="middle">10</text>
<text x="258.6" y="713" font-size="12.5" text-anchor="middle">15</text>
<text x="323.6" y="713" font-size="12.5" text-anchor="middle">20</text>
<text x="388.6" y="713" font-size="12.5" text-anchor="middle">25</text>
<text x="453.6" y="713" font-size="12.5" text-anchor="middle">30</text>
<text x="130.80" y="516.7" font-size="16.5" textLength="281.60" lengthAdjust="spacingAndGlyphs">Average Wind Speed and Peak Gust</text>
<text transform="translate(35.2 650.10) rotate(-90)" font-size="16.5" textLength="73.20" lengthAdjust="spacingAndGlyphs">miles/hour</text>
<text x="256.50" y="732.9" font-size="16.5" textLength="30.00" lengthAdjust="spacingAndGlyphs">Day</text>
<rect x="73" y="637" width="7" height="60" fill="#000"/>
<rect x="74" y="638" width="5" height="47" fill="#0000ff"/>
<rect x="74" y="686" width="5" height="10" fill="#ff0000"/>
<rect x="86" y="652" width="7" height="45" fill="#000"/>
<rect x="87" y="653" width="5" height="38" fill="#0000ff"/>
<rect x="87" y="692" width="5" height="4" fill="#ff0000"/>
<rect x="99" y="644" width="7" height="53" fill="#000"/>
<rect x="100" y="645" width="5" height="46" fill="#0000ff"/>
<rect x="100" y="692" width="5" height="4" fill="#ff0000"/>
<rect x="112" y="633" width="7" height="64" fill="#000"/>
<rect x="113" y="634" width="5" height="48" fill="#0000ff"/>
<rect x="113" y="683" width="5" height="13" fill="#ff0000"/>
<rect x="125" y="615" width="7" height="82" fill="#000"/>
<rect x="126" y="616" width="5" height="67" fill="#0000ff"/>
<rect x="126" y="684" width="5" height="12" fill="#ff0000"/>
<rect x="138" y="644" width="7" height="53" fill="#000"/>
<rect x="139" y="645" width="5" height="41" fill="#0000ff"/>
<rect x="139" y="687" width="5" height="9" fill="#ff0000"/>
<rect x="151" y="648" width="7" height="49" fill="#000"/>
<rect x="152" y="649" width="5" height="40" fill="#0000ff"/>
<rect x="152" y="690" width="5" height="6" fill="#ff0000"/>
<rect x="164" y="597" width="7" height="100" fill="#000"/>
<rect x="165" y="598" width="5" height="85" fill="#0000ff"/>
<rect x="165" y="684" width="5" height="12" fill="#ff0000"/>
<rect x="177" y="575" width="7" height="122" fill="#000"/>
<rect x="178" y="576" width="5" height="108" fill="#0000ff"/>
<rect x="178" y="685" width="5" height="11" fill="#ff0000"/>
<rect x="190" y="604" width="7" height="93" fill="#000"/>
<rect x="191" y="605" width="5" height="73" fill="#0000ff"/>
<rect x="191" y="679" width="5" height="17" fill="#ff0000"/>
<rect x="203" y="600" width="7" height="97" fill="#000"/>
<rect x="204" y="601" width="5" height="76" fill="#0000ff"/>
<rect x="204" y="678" width="5" height="18" fill="#ff0000"/>
<rect x="216" y="597" width="7" height="100" fill="#000"/>
<rect x="217" y="598" width="5" height="78" fill="#0000ff"/>
<rect x="217" y="677" width="5" height="19" fill="#ff0000"/>
<rect x="229" y="615" width="7" height="82" fill="#000"/>
<rect x="230" y="616" width="5" height="62" fill="#0000ff"/>
<rect x="230" y="679" width="5" height="17" fill="#ff0000"/>
<rect x="242" y="615" width="7" height="82" fill="#000"/>
<rect x="243" y="616" width="5" height="66" fill="#0000ff"/>
<rect x="243" y="683" width="5" height="13" fill="#ff0000"/>
<rect x="255" y="622" width="7" height="75" fill="#000"/>
<rect x="256" y="623" width="5" height="55" fill="#0000ff"/>
<rect x="256" y="679" width="5" height="17" fill="#ff0000"/>
<rect x="268" y="630" width="7" height="67" fill="#000"/>
<rect x="269" y="631" width="5" height="54" fill="#0000ff"/>
<rect x="269" y="686" width="5" height="10" fill="#ff0000"/>
<rect x="281" y="644" width="7" height="53" fill="#000"/>
<rect x="282" y="645" width="5" height="41" fill="#0000ff"/>
<rect x="282" y="687" width="5" height="9" fill="#ff0000"/>
<rect x="294" y="633" width="7" height="64" fill="#000"/>
<rect x="295" y="634" width="5" height="48" fill="#0000ff"/>
<rect x="295" y="683" width="5" height="13" fill="#ff0000"/>
<rect x="307" y="637" width="7" height="60" fill="#000"/>
<rect x="308" y="638" width="5" height="45" fill="#0000ff"/>
<rect x="308" y="684" width="5" height="12" fill="#ff0000"/>
<rect x="320" y="641" width="7" height="56" fill="#000"/>
<rect x="321" y="642" width="5" height="43" fill="#0000ff"/>
<rect x="321" y="686" width="5" height="10" fill="#ff0000"/>
<rect x="333" y="553" width="7" height="144" fill="#000"/>
<rect x="334" y="554" width="5" height="125" fill="#0000ff"/>
<rect x="334" y="680" width="5" height="16" fill="#ff0000"/>
<rect x="346" y="597" width="7" height="100" fill="#000"/>
<rect x="347" y="598" width="5" height="91" fill="#0000ff"/>
<rect x="347" y="690" width="5" height="6" fill="#ff0000"/>
<rect x="359" y="641" width="7" height="56" fill="#000"/>
<rect x="360" y="642" width="5" height="43" fill="#0000ff"/>
<rect x="360" y="686" width="5" height="10" fill="#ff0000"/>
<rect x="372" y="641" width="7" height="56" fill="#000"/>
<rect x="373" y="642" width="5" height="46" fill="#0000ff"/>
<rect x="373" y="689" width="5" height="7" fill="#ff0000"/>
<rect x="385" y="648" width="7" height="49" fill="#000"/>
<rect x="386" y="649" width="5" height="42" fill="#0000ff"/>
<rect x="386" y="692" width="5" height="4" fill="#ff0000"/>
<rect x="398" y="644" width="7" height="53" fill="#000"/>
<rect x="399" y="645" width="5" height="43" fill="#0000ff"/>
<rect x="399" y="689" width="5" height="7" fill="#ff0000"/>
<rect x="411" y="549" width="7" height="148" fill="#000"/>
<rect x="412" y="550" width="5" height="132" fill="#0000ff"/>
<rect x="412" y="683" width="5" height="13" fill="#ff0000"/>
<rect x="424" y="626" width="7" height="71" fill="#000"/>
<rect x="425" y="627" width="5" height="62" fill="#0000ff"/>
<rect x="425" y="690" width="5" height="6" fill="#ff0000"/>
<rect x="437" y="652" width="7" height="45" fill="#000"/>
<rect x="438" y="653" width="5" height="38" fill="#0000ff"/>
<rect x="438" y="692" width="5" height="4" fill="#ff0000"/>
<rect x="450" y="637" width="7" height="60" fill="#000"/>
<rect x="451" y="638" width="5" height="45" fill="#0000ff"/>
<rect x="451" y="684" width="5" height="12" fill="#ff0000"/>
<rect x="96" y="532" width="1" height="3" fill="#fff"/>
<rect x="96" y="693" width="1" height="3" fill="#fff"/>
<rect x="96" y="533" width="1" height="1" fill="#000"/>
<rect x="96" y="694" width="1" height="1" fill="#000"/>
<rect x="128" y="532" width="1" height="7" fill="#fff"/>
<rect x="128" y="689" width="1" height="7" fill="#fff"/>
<rect x="128" y="533" width="1" height="1" fill="#000"/>
<rect x="128" y="537" width="1" height="1" fill="#000"/>
<rect x="128" y="695" width="1" height="1" fill="#000"/>
<rect x="128" y="691" width="1" height="1" fill="#000"/>
<rect x="161" y="532" width="1" height="3" fill="#fff"/>
<rect x="161" y="693" width="1" height="3" fill="#fff"/>
<rect x="161" y="533" width="1" height="1" fill="#000"/>
<rect x="161" y="694" width="1" height="1" fill="#000"/>
<rect x="193" y="532" width="1" height="7" fill="#fff"/>
<rect x="193" y="689" width="1" height="7" fill="#fff"/>
<rect x="193" y="532" width="1" height="1" fill="#000"/>
<rect x="193" y="534" width="1" height="1" fill="#000"/>
<rect x="193" y="536" width="1" height="1" fill="#000"/>
<rect x="193" y="538" width="1" height="1" fill="#000"/>
<rect x="193" y="694" width="1" height="1" fill="#000"/>
<rect x="193" y="692" width="1" height="1" fill="#000"/>
<rect x="193" y="690" width="1" height="1" fill="#000"/>
<rect x="226" y="532" width="1" height="3" fill="#fff"/>
<rect x="226" y="693" width="1" height="3" fill="#fff"/>
<rect x="226" y="533" width="1" height="1" fill="#000"/>
<rect x="226" y="694" width="1" height="1" fill="#000"/>
<rect x="258" y="532" width="1" height="7" fill="#fff"/>
<rect x="258" y="689" width="1" height="7" fill="#fff"/>
<rect x="258" y="533" width="1" height="1" fill="#000"/>
<rect x="258" y="537" width="1" height="1" fill="#000"/>
<rect x="258" y="695" width="1" height="1" fill="#000"/>
<rect x="258" y="691" width="1" height="1" fill="#000"/>
<rect x="291" y="532" width="1" height="3" fill="#fff"/>
<rect x="291" y="693" width="1" height="3" fill="#fff"/>
<rect x="291" y="533" width="1" height="1" fill="#000"/>
<rect x="291" y="694" width="1" height="1" fill="#000"/>
<rect x="323" y="532" width="1" height="7" fill="#fff"/>
<rect x="323" y="689" width="1" height="7" fill="#fff"/>
<rect x="323" y="532" width="1" height="1" fill="#000"/>
<rect x="323" y="534" width="1" height="1" fill="#000"/>
<rect x="323" y="536" width="1" height="1" fill="#000"/>
<rect x="323" y="538" width="1" height="1" fill="#000"/>
<rect x="323" y="694" width="1" height="1" fill="#000"/>
<rect x="323" y="692" width="1" height="1" fill="#000"/>
<rect x="323" y="690" width="1" height="1" fill="#000"/>
<rect x="356" y="532" width="1" height="3" fill="#fff"/>
<rect x="356" y="693" width="1" height="3" fill="#fff"/>
<rect x="356" y="533" width="1" height="1" fill="#000"/>
<rect x="356" y="694" width="1" height="1" fill="#000"/>
<rect x="388" y="532" width="1" height="7" fill="#fff"/>
<rect x="388" y="689" width="1" height="7" fill="#fff"/>
<rect x="388" y="533" width="1" height="1" fill="#000"/>
<rect x="388" y="537" width="1" height="1" fill="#000"/>
<rect x="388" y="695" width="1" height="1" fill="#000"/>
<rect x="388" y="691" width="1" height="1" fill="#000"/>
<rect x="421" y="532" width="1" height="3" fill="#fff"/>
<rect x="421" y="693" width="1" height="3" fill="#fff"/>
<rect x="421" y="533" width="1" height="1" fill="#000"/>
<rect x="421" y="694" width="1" height="1" fill="#000"/>
<rect x="453" y="532" width="1" height="7" fill="#fff"/>
<rect x="453" y="689" width="1" height="7" fill="#fff"/>
<rect x="453" y="532" width="1" height="1" fill="#000"/>
<rect x="453" y="534" width="1" height="1" fill="#000"/>
<rect x="453" y="536" width="1" height="1" fill="#000"/>
<rect x="453" y="538" width="1" height="1" fill="#000"/>
<rect x="453" y="694" width="1" height="1" fill="#000"/>
<rect x="453" y="692" width="1" height="1" fill="#000"/>
<rect x="453" y="690" width="1" height="1" fill="#000"/>
<path d="M63.5 531.5H479.5V696.5H63.5Z" stroke="#000" stroke-width="1" fill="none"/>
<path d="M566 570.5H981" stroke="#000" stroke-width="1" stroke-dasharray="1 3" fill="none"/>
<path d="M567 609.5H981" stroke="#000" stroke-width="1" stroke-dasharray="1 1" fill="none"/>
<path d="M567 649.5H981" stroke="#000" stroke-width="1" stroke-dasharray="1 1" fill="none"/>
<path d="M567 688.5H981" stroke="#000" stroke-width="1" stroke-dasharray="1 1" fill="none"/>
<text x="540.55" y="536" font-size="12.5" textLength="18.65" lengthAdjust="spacingAndGlyphs">845</text>
<text x="540.55" y="575" font-size="12.5" textLength="18.65" lengthAdjust="spacingAndGlyphs">840</text>
<text x="540.55" y="614" font-size="12.5" textLength="18.65" lengthAdjust="spacingAndGlyphs">835</text>
<text x="540.55" y="654" font-size="12.5" textLength="18.65" lengthAdjust="spacingAndGlyphs">830</text>
<text x="540.55" y="693" font-size="12.5" textLength="18.65" lengthAdjust="spacingAndGlyphs">825</text>
<text x="565.6" y="713" font-size="12.5" text-anchor="middle">0</text>
<text x="630.6" y="713" font-size="12.5" text-anchor="middle">5</text>
<text x="695.6" y="713" font-size="12.5" text-anchor="middle">10</text>
<text x="760.6" y="713" font-size="12.5" text-anchor="middle">15</text>
<text x="825.6" y="713" font-size="12.5" text-anchor="middle">20</text>
<text x="890.6" y="713" font-size="12.5" text-anchor="middle">25</text>
<text x="955.6" y="713" font-size="12.5" text-anchor="middle">30</text>
<text x="652.00" y="516.6" font-size="16.5" textLength="243.30" lengthAdjust="spacingAndGlyphs">Min, Max, Average Air Pressure</text>
<text transform="translate(534.3 642.10) rotate(-90)" font-size="16.5" textLength="57.00" lengthAdjust="spacingAndGlyphs">millibars</text>
<text x="758.50" y="732.9" font-size="16.5" textLength="30.00" lengthAdjust="spacingAndGlyphs">Day</text>
<rect x="575" y="586" width="8" height="24" fill="#000"/>
<rect x="576" y="587" width="6" height="10" fill="#ff0000"/>
<rect x="576" y="598" width="6" height="11" fill="#0000ff"/>
<rect x="588" y="579" width="8" height="29" fill="#000"/>
<rect x="589" y="580" width="6" height="14" fill="#ff0000"/>
<rect x="589" y="595" width="6" height="12" fill="#0000ff"/>
<rect x="601" y="583" width="8" height="34" fill="#000"/>
<rect x="602" y="584" width="6" height="14" fill="#ff0000"/>
<rect x="602" y="599" width="6" height="17" fill="#0000ff"/>
<rect x="614" y="601" width="8" height="14" fill="#000"/>
<rect x="615" y="602" width="6" height="6" fill="#ff0000"/>
<rect x="615" y="609" width="6" height="5" fill="#0000ff"/>
<rect x="627" y="593" width="8" height="24" fill="#000"/>
<rect x="628" y="594" width="6" height="12" fill="#ff0000"/>
<rect x="628" y="607" width="6" height="9" fill="#0000ff"/>
<rect x="640" y="554" width="8" height="42" fill="#000"/>
<rect x="641" y="555" width="6" height="17" fill="#ff0000"/>
<rect x="641" y="573" width="6" height="22" fill="#0000ff"/>
<rect x="653" y="570" width="8" height="30" fill="#000"/>
<rect x="654" y="571" width="6" height="11" fill="#ff0000"/>
<rect x="654" y="583" width="6" height="16" fill="#0000ff"/>
<rect x="666" y="586" width="8" height="51" fill="#000"/>
<rect x="667" y="587" width="6" height="18" fill="#ff0000"/>
<rect x="667" y="606" width="6" height="30" fill="#0000ff"/>
<rect x="679" y="631" width="8" height="42" fill="#000"/>
<rect x="680" y="632" width="6" height="19" fill="#ff0000"/>
<rect x="680" y="652" width="6" height="20" fill="#0000ff"/>
<rect x="692" y="655" width="8" height="31" fill="#000"/>
<rect x="693" y="656" width="6" height="10" fill="#ff0000"/>
<rect x="693" y="667" width="6" height="18" fill="#0000ff"/>
<rect x="705" y="632" width="8" height="29" fill="#000"/>
<rect x="706" y="633" width="6" height="16" fill="#ff0000"/>
<rect x="706" y="650" width="6" height="10" fill="#0000ff"/>
<rect x="718" y="632" width="8" height="37" fill="#000"/>
<rect x="719" y="633" width="6" height="20" fill="#ff0000"/>
<rect x="719" y="654" width="6" height="14" fill="#0000ff"/>
<rect x="731" y="599" width="8" height="35" fill="#000"/>
<rect x="732" y="600" width="6" height="14" fill="#ff0000"/>
<rect x="732" y="615" width="6" height="18" fill="#0000ff"/>
<rect x="744" y="603" width="8" height="34" fill="#000"/>
<rect x="745" y="604" width="6" height="12" fill="#ff0000"/>
<rect x="745" y="617" width="6" height="19" fill="#0000ff"/>
<rect x="757" y="590" width="8" height="27" fill="#000"/>
<rect x="758" y="591" width="6" height="14" fill="#ff0000"/>
<rect x="758" y="606" width="6" height="10" fill="#0000ff"/>
<rect x="770" y="599" width="8" height="53" fill="#000"/>
<rect x="771" y="600" width="6" height="25" fill="#ff0000"/>
<rect x="771" y="626" width="6" height="25" fill="#0000ff"/>
<rect x="783" y="628" width="8" height="37" fill="#000"/>
<rect x="784" y="629" width="6" height="18" fill="#ff0000"/>
<rect x="784" y="648" width="6" height="16" fill="#0000ff"/>
<rect x="796" y="606" width="8" height="27" fill="#000"/>
<rect x="797" y="607" width="6" height="14" fill="#ff0000"/>
<rect x="797" y="622" width="6" height="10" fill="#0000ff"/>
<rect x="809" y="558" width="8" height="48" fill="#000"/>
<rect x="810" y="559" width="6" height="16" fill="#ff0000"/>
<rect x="810" y="576" width="6" height="29" fill="#0000ff"/>
<rect x="822" y="553" width="8" height="46" fill="#000"/>
<rect x="823" y="554" width="6" height="21" fill="#ff0000"/>
<rect x="823" y="576" width="6" height="22" fill="#0000ff"/>
<rect x="835" y="597" width="8" height="37" fill="#000"/>
<rect x="836" y="598" width="6" height="15" fill="#ff0000"/>
<rect x="836" y="614" width="6" height="19" fill="#0000ff"/>
<rect x="848" y="582" width="8" height="31" fill="#000"/>
<rect x="849" y="583" width="6" height="18" fill="#ff0000"/>
<rect x="849" y="602" width="6" height="10" fill="#0000ff"/>
<rect x="861" y="612" width="8" height="47" fill="#000"/>
<rect x="862" y="613" width="6" height="23" fill="#ff0000"/>
<rect x="862" y="637" width="6" height="21" fill="#0000ff"/>
<rect x="874" y="633" width="8" height="24" fill="#000"/>
<rect x="875" y="634" width="6" height="15" fill="#ff0000"/>
<rect x="875" y="650" width="6" height="6" fill="#0000ff"/>
<rect x="887" y="579" width="8" height="56" fill="#000"/>
<rect x="888" y="580" width="6" height="37" fill="#ff0000"/>
<rect x="888" y="618" width="6" height="16" fill="#0000ff"/>
<rect x="900" y="556" width="7" height="49" fill="#000"/>
<rect x="901" y="557" width="5" height="22" fill="#ff0000"/>
<rect x="901" y="580" width="5" height="24" fill="#0000ff"/>
<rect x="913" y="599" width="7" height="40" fill="#000"/>
<rect x="914" y="600" width="5" height="14" fill="#ff0000"/>
<rect x="914" y="615" width="5" height="23" fill="#0000ff"/>
<rect x="926" y="539" width="7" height="81" fill="#000"/>
<rect x="927" y="540" width="5" height="22" fill="#ff0000"/>
<rect x="927" y="563" width="5" height="56" fill="#0000ff"/>
<rect x="939" y="572" width="7" height="69" fill="#000"/>
<rect x="940" y="573" width="5" height="39" fill="#ff0000"/>
<rect x="940" y="613" width="5" height="27" fill="#0000ff"/>
<rect x="952" y="638" width="7" height="19" fill="#000"/>
<rect x="953" y="639" width="5" height="8" fill="#ff0000"/>
<rect x="953" y="648" width="5" height="8" fill="#0000ff"/>
<rect x="598" y="532" width="1" height="3" fill="#fff"/>
<rect x="598" y="693" width="1" height="3" fill="#fff"/>
<rect x="598" y="533" width="1" height="1" fill="#000"/>
<rect x="598" y="694" width="1" height="1" fill="#000"/>
<rect x="630" y="532" width="1" height="7" fill="#fff"/>
<rect x="630" y="689" width="1" height="7" fill="#fff"/>
<rect x="630" y="533" width="1" height="1" fill="#000"/>
<rect x="630" y="537" width="1" height="1" fill="#000"/>
<rect x="630" y="695" width="1" height="1" fill="#000"/>
<rect x="630" y="691" width="1" height="1" fill="#000"/>
<rect x="663" y="532" width="1" height="3" fill="#fff"/>
<rect x="663" y="693" width="1" height="3" fill="#fff"/>
<rect x="663" y="533" width="1" height="1" fill="#000"/>
<rect x="663" y="694" width="1" height="1" fill="#000"/>
<rect x="695" y="532" width="1" height="7" fill="#fff"/>
<rect x="695" y="689" width="1" height="7" fill="#fff"/>
<rect x="695" y="532" width="1" height="1" fill="#000"/>
<rect x="695" y="534" width="1" height="1" fill="#000"/>
<rect x="695" y="536" width="1" height="1" fill="#000"/>
<rect x="695" y="538" width="1" height="1" fill="#000"/>
<rect x="695" y="694" width="1" height="1" fill="#000"/>
<rect x="695" y="692" width="1" height="1" fill="#000"/>
<rect x="695" y="690" width="1" height="1" fill="#000"/>
<rect x="728" y="532" width="1" height="3" fill="#fff"/>
<rect x="728" y="693" width="1" height="3" fill="#fff"/>
<rect x="728" y="533" width="1" height="1" fill="#000"/>
<rect x="728" y="694" width="1" height="1" fill="#000"/>
<rect x="760" y="532" width="1" height="7" fill="#fff"/>
<rect x="760" y="689" width="1" height="7" fill="#fff"/>
<rect x="760" y="533" width="1" height="1" fill="#000"/>
<rect x="760" y="537" width="1" height="1" fill="#000"/>
<rect x="760" y="695" width="1" height="1" fill="#000"/>
<rect x="760" y="691" width="1" height="1" fill="#000"/>
<rect x="793" y="532" width="1" height="3" fill="#fff"/>
<rect x="793" y="693" width="1" height="3" fill="#fff"/>
<rect x="793" y="533" width="1" height="1" fill="#000"/>
<rect x="793" y="694" width="1" height="1" fill="#000"/>
<rect x="825" y="532" width="1" height="7" fill="#fff"/>
<rect x="825" y="689" width="1" height="7" fill="#fff"/>
<rect x="825" y="532" width="1" height="1" fill="#000"/>
<rect x="825" y="534" width="1" height="1" fill="#000"/>
<rect x="825" y="536" width="1" height="1" fill="#000"/>
<rect x="825" y="538" width="1" height="1" fill="#000"/>
<rect x="825" y="694" width="1" height="1" fill="#000"/>
<rect x="825" y="692" width="1" height="1" fill="#000"/>
<rect x="825" y="690" width="1" height="1" fill="#000"/>
<rect x="858" y="532" width="1" height="3" fill="#fff"/>
<rect x="858" y="693" width="1" height="3" fill="#fff"/>
<rect x="858" y="533" width="1" height="1" fill="#000"/>
<rect x="858" y="694" width="1" height="1" fill="#000"/>
<rect x="890" y="532" width="1" height="7" fill="#fff"/>
<rect x="890" y="689" width="1" height="7" fill="#fff"/>
<rect x="890" y="533" width="1" height="1" fill="#000"/>
<rect x="890" y="537" width="1" height="1" fill="#000"/>
<rect x="890" y="695" width="1" height="1" fill="#000"/>
<rect x="890" y="691" width="1" height="1" fill="#000"/>
<rect x="923" y="532" width="1" height="3" fill="#fff"/>
<rect x="923" y="693" width="1" height="3" fill="#fff"/>
<rect x="923" y="533" width="1" height="1" fill="#000"/>
<rect x="923" y="694" width="1" height="1" fill="#000"/>
<rect x="955" y="532" width="1" height="7" fill="#fff"/>
<rect x="955" y="689" width="1" height="7" fill="#fff"/>
<rect x="955" y="532" width="1" height="1" fill="#000"/>
<rect x="955" y="534" width="1" height="1" fill="#000"/>
<rect x="955" y="536" width="1" height="1" fill="#000"/>
<rect x="955" y="538" width="1" height="1" fill="#000"/>
<rect x="955" y="694" width="1" height="1" fill="#000"/>
<rect x="955" y="692" width="1" height="1" fill="#000"/>
<rect x="955" y="690" width="1" height="1" fill="#000"/>
<path d="M565.5 531.5H981.5V696.5H565.5Z" stroke="#000" stroke-width="1" fill="none"/>
</svg>
</body></html>
